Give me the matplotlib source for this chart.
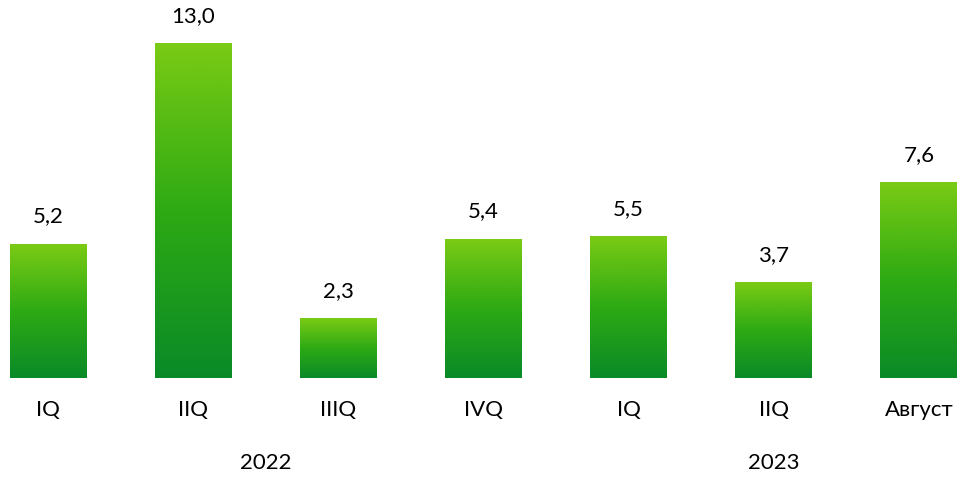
import numpy as np
import matplotlib.pyplot as plt
from matplotlib.colors import LinearSegmentedColormap

# Данные
categories = ['IQ', 'IIQ', 'IIIQ', 'IVQ', 'IQ', 'IIQ', 'Август']
values = [5.2, 13.0, 2.3, 5.4, 5.5, 3.7, 7.6]
years = ['2022', '2023']
year_groups = [[0, 1, 2, 3], [4, 5, 6]]

plt.rcParams['font.family'] = ['Lato', 'DejaVu Sans']

fig = plt.figure(figsize=(9.59, 4.78), dpi=100)
ax = fig.add_axes([0, 0, 1, 1])

# градиент: сверху светло-зелёный, снизу тёмно-зелёный
cmap = LinearSegmentedColormap.from_list('grn', ['#0a8a28', '#2eaa14', '#7acb14'])
grad = np.linspace(0, 1, 256).reshape(-1, 1)

x = np.arange(len(values))
width = 0.53
for xi, v in zip(x, values):
    ax.imshow(grad, cmap=cmap, origin='lower', aspect='auto',
              extent=[xi - width / 2, xi + width / 2, 0, v], zorder=2)
    ax.text(xi, v + 1.09, f'{v:.1f}'.replace('.', ','), ha='center', va='center',
            fontsize=16, color='#000000')
    ax.text(xi, -1.245, categories[xi], ha='center', va='center',
            fontsize=16, color='#000000')

for yr, grp in zip(years, year_groups):
    ax.text(np.mean(grp), -3.31, yr, ha='center', va='center',
            fontsize=16, color='#000000')

ax.set_xlim(-0.331, 6.276)
ax.set_ylim(-3.89, 14.71)
ax.axis('off')

plt.savefig('out.png', dpi=100)
